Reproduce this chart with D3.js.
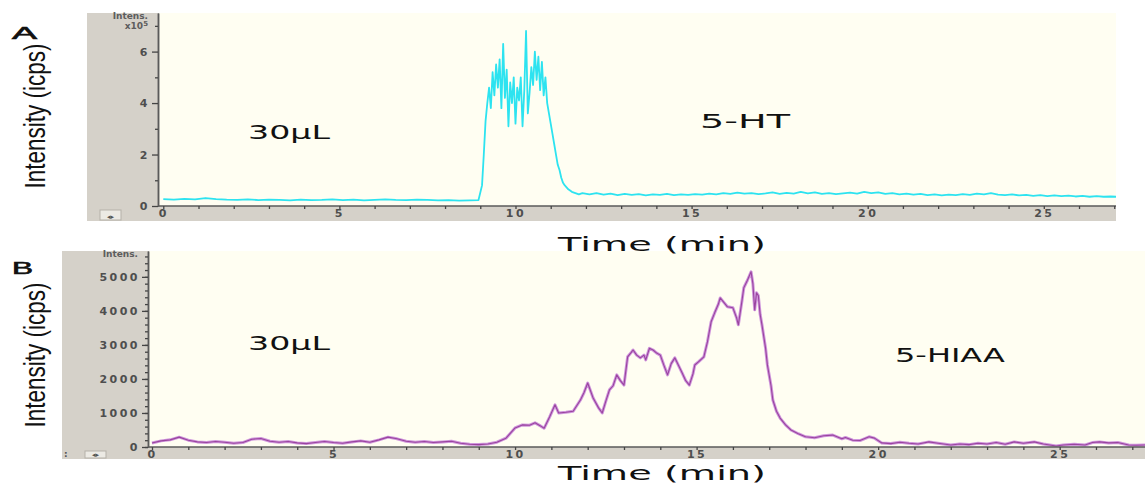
<!DOCTYPE html>
<html>
<head>
<meta charset="utf-8">
<script src="https://cdnjs.cloudflare.com/ajax/libs/d3/7.8.5/d3.min.js"></script>
<style>
body { margin: 0; background: #fff; }
svg { display: block; }
</style>
</head>
<body>
<div id="chart"></div>
<script>
// panel A: 5-HT, intensity in x10^5 icps
var htTime = [
	0, 0.3, 0.6, 0.9, 1.2, 1.5, 1.8, 2.1, 2.4, 2.7,
	3.0, 3.3, 3.6, 3.9, 4.2, 4.5, 4.8, 5.1, 5.4, 5.7,
	6.0, 6.3, 6.6, 6.9, 7.2, 7.5, 7.8, 8.1, 8.4, 8.7, 8.95,
	9.05, 9.1, 9.15, 9.2, 9.25, 9.3, 9.35, 9.4, 9.45, 9.5,
	9.55, 9.6, 9.65, 9.7, 9.75, 9.8, 9.85, 9.9, 9.95, 10.0,
	10.05, 10.1, 10.15, 10.2, 10.25, 10.3, 10.35, 10.4, 10.45, 10.5,
	10.55, 10.6, 10.65, 10.7, 10.75, 10.8, 10.85, 10.9, 10.95, 11.0,
	11.05, 11.1, 11.15, 11.2, 11.25, 11.3, 11.35, 11.4, 11.5, 11.6, 11.7, 11.8,
	11.9, 12.1, 12.3, 12.5, 12.7, 12.9, 13.1, 13.3, 13.5, 13.7,
	13.9, 14.1, 14.3, 14.5, 14.7, 14.9, 15.1, 15.3, 15.5, 15.7,
	15.9, 16.1, 16.3, 16.5, 16.7, 16.9, 17.1, 17.3, 17.5, 17.7,
	17.9, 18.1, 18.3, 18.5, 18.7, 18.9, 19.1, 19.3, 19.5, 19.7,
	19.9, 20.1, 20.3, 20.5, 20.7, 20.9, 21.1, 21.3, 21.5, 21.7,
	21.9, 22.1, 22.3, 22.5, 22.7, 22.9, 23.1, 23.3, 23.5, 23.7,
	23.9, 24.1, 24.3, 24.5, 24.7, 24.9, 25.1, 25.3, 25.5, 25.7,
	25.9, 26.1, 26.3, 26.5, 26.7, 26.9, 27.05
];
var htIntensity = [
	0.27, 0.25, 0.28, 0.26, 0.31, 0.27, 0.25, 0.24, 0.26, 0.23,
	0.25, 0.24, 0.22, 0.25, 0.23, 0.24, 0.26, 0.23, 0.25, 0.22,
	0.24, 0.26, 0.24, 0.23, 0.25, 0.24, 0.22, 0.23, 0.21, 0.22, 0.23,
	0.8, 2.0, 3.3, 4.0, 4.6, 3.8, 5.2, 4.3, 5.5, 4.6,
	5.7, 3.8, 6.3, 4.2, 5.3, 3.1, 4.8, 4.0, 5.0, 3.2,
	4.6, 4.1, 5.0, 3.1, 4.5, 6.8, 3.6, 4.4, 5.4, 4.7,
	6.0, 4.9, 5.8, 4.5, 5.6, 4.3, 5.0, 4.0, 3.6, 3.2,
	2.8, 2.4, 2.0, 1.6, 1.4, 1.1, 0.9, 0.8, 0.65, 0.55, 0.5, 0.45,
	0.5, 0.45, 0.5, 0.44, 0.48, 0.42, 0.47, 0.43, 0.46, 0.41,
	0.45, 0.43, 0.47, 0.42, 0.45, 0.43, 0.46, 0.44, 0.48, 0.45,
	0.5, 0.47, 0.52, 0.48, 0.5, 0.46, 0.49, 0.53, 0.47, 0.51,
	0.48, 0.55, 0.49, 0.53, 0.47, 0.5, 0.46, 0.49, 0.52, 0.48,
	0.55, 0.5, 0.53, 0.47, 0.5, 0.45, 0.48, 0.44, 0.47, 0.42,
	0.45, 0.41, 0.44, 0.42, 0.46, 0.43, 0.48, 0.45, 0.5, 0.44,
	0.42, 0.45, 0.41, 0.43, 0.39, 0.42, 0.38, 0.41, 0.38, 0.4,
	0.37, 0.39, 0.36, 0.38, 0.36, 0.37, 0.36
];

// panel B: 5-HIAA, intensity in icps
var hiaaTime = [
	0, 0.25, 0.5, 0.75, 1.0, 1.25, 1.5, 1.75, 2.0, 2.25,
	2.5, 2.75, 3.0, 3.25, 3.5, 3.75, 4.0, 4.25, 4.5, 4.75,
	5.0, 5.25, 5.5, 5.75, 6.0, 6.25, 6.5, 6.75, 7.0, 7.25,
	7.5, 7.75, 8.0, 8.25, 8.5, 8.75, 9.0, 9.25, 9.5, 9.75,
	10.0, 10.2, 10.4, 10.55, 10.7, 10.8, 10.95, 11.1, 11.2, 11.4,
	11.6, 11.8, 11.9, 12.0, 12.15, 12.3, 12.4, 12.5, 12.6, 12.7,
	12.8, 12.9, 13.0, 13.1, 13.2, 13.25, 13.35, 13.45, 13.55, 13.6,
	13.7, 13.8, 13.9, 14.0, 14.1, 14.2, 14.3, 14.4, 14.5, 14.6,
	14.7, 14.8, 14.9, 14.95, 15.05, 15.2, 15.3, 15.4, 15.5, 15.6,
	15.65, 15.75, 15.85, 16.0, 16.1, 16.15, 16.25, 16.3, 16.4, 16.5,
	16.55, 16.6, 16.65, 16.7, 16.75, 16.8, 16.9, 16.95, 17.05, 17.1,
	17.2, 17.3, 17.45, 17.6, 17.8, 18.0, 18.25, 18.5, 18.75, 19.0,
	19.1, 19.3, 19.5, 19.75, 19.9, 20.1, 20.35, 20.6, 20.85, 21.1,
	21.4, 21.65, 22.0, 22.25, 22.5, 22.75, 23.0, 23.25, 23.5, 23.75,
	24.0, 24.3, 24.55, 24.9, 25.1, 25.4, 25.7, 25.9, 26.1, 26.35,
	26.6, 26.9, 27.1, 27.35
];
var hiaaIntensity = [
	120, 180, 210, 290, 200, 150, 130, 160, 140, 110,
	130, 230, 250, 170, 140, 160, 120, 100, 130, 160,
	130, 110, 150, 180, 140, 210, 290, 240, 170, 140,
	160, 130, 150, 170, 110, 80, 70, 90, 140, 260,
	560, 650, 640, 710, 620, 550, 880, 1240, 1000, 1020,
	1050, 1380, 1600, 1880, 1440, 1150, 1000, 1350, 1680, 1800,
	2120, 1950, 1820, 2650, 2780, 2850, 2700, 2620, 2700, 2560,
	2900, 2850, 2760, 2700, 2400, 2120, 2450, 2620, 2400, 2180,
	1950, 1820, 2150, 2410, 2500, 2650, 3100, 3680, 3950, 4200,
	4380, 4250, 4120, 4090, 3800, 3590, 4300, 4680, 4900, 5150,
	4800, 4030, 4530, 4450, 3900, 3590, 2900, 2410, 1800, 1380,
	1050, 850, 650, 500, 390, 300, 270, 330, 350, 240,
	280, 200, 190, 300, 260, 120, 100, 140, 110, 90,
	150, 110, 60, 90, 70, 110, 90, 130, 80, 150,
	110, 150, 90, 30, 60, 80, 60, 130, 150, 120,
	130, 60, 50, 60
];

var timeTickLabels = [0, 5, 10, 15, 20, 25];
var htYTicks = [0, 2, 4, 6];
var htYMinorTicks = [1, 3, 5, 7];
var hiaaYTicks = [0, 1000, 2000, 3000, 4000, 5000];

var width = 1145;
var height = 491;

var svg = d3.select('#chart')
	.append('svg')
	.attr('width', width)
	.attr('height', height);

var stretchText = function(sel, len) {
	return sel.attr('textLength', len).attr('lengthAdjust', 'spacingAndGlyphs');
};

var drawPanel = function(p) {
	var g = svg.append('g');
	var x = d3.scaleLinear().domain(p.xDomain).range([p.axisX, p.right]);
	var y = d3.scaleLinear().domain(p.yDomain).range([p.axisY, p.top]);

	// grey software frame and cream plot area
	g.append('rect')
		.attr('x', p.left)
		.attr('y', p.top)
		.attr('width', p.right - p.left)
		.attr('height', p.bottom - p.top)
		.attr('fill', '#d5d1c9');
	g.append('rect')
		.attr('x', p.axisX)
		.attr('y', p.top)
		.attr('width', p.right - p.axisX)
		.attr('height', p.axisY - p.top)
		.attr('fill', '#fffef2');

	var clipId = 'clip' + p.name;
	g.append('clipPath').attr('id', clipId)
		.append('rect')
		.attr('x', p.axisX)
		.attr('y', p.top)
		.attr('width', p.right - p.axisX)
		.attr('height', p.axisY - p.top);

	var pts = p.times.map(function(t, i) {
		return [t, p.values[i]];
	});
	var line = d3.line()
		.x(function(d) { return x(d[0]); })
		.y(function(d) { return y(d[1]); });

	p.strokes.forEach(function(s) {
		g.append('path')
			.datum(pts)
			.attr('clip-path', 'url(#' + clipId + ')')
			.attr('d', line)
			.attr('fill', 'none')
			.attr('stroke', s[0])
			.attr('stroke-width', s[1])
			.attr('stroke-linejoin', 'round');
	});

	// x axis: a dot every minute, a label every 5
	var minutes = d3.range(0, Math.floor(p.xDomain[1]) + 1);
	var xAxis = g.append('g')
		.attr('transform', 'translate(0,' + p.axisY + ')')
		.call(d3.axisBottom(x)
			.tickValues(minutes)
			.tickSize(3)
			.tickSizeOuter(0)
			.tickPadding(0)
			.tickFormat(function(d) {
				return timeTickLabels.indexOf(d) >= 0 ? d : '';
			}));

	// y axis, major and minor ticks
	var yMinor = g.append('g')
		.attr('transform', 'translate(' + p.axisX + ',0)')
		.call(d3.axisLeft(y)
			.tickValues(p.yMinor)
			.tickSize(3)
			.tickSizeOuter(0)
			.tickFormat(''));
	var yAxis = g.append('g')
		.attr('transform', 'translate(' + p.axisX + ',0)')
		.call(d3.axisLeft(y)
			.tickValues(p.yMajor)
			.tickSize(6)
			.tickSizeOuter(0)
			.tickPadding(p.yPad)
			.tickFormat(d3.format('d')));

	[xAxis, yAxis, yMinor].forEach(function(a) {
		a.select('.domain')
			.attr('stroke', '#5a5a5a')
			.attr('stroke-width', 1.5);
		a.selectAll('.tick line')
			.attr('stroke', '#444')
			.attr('stroke-width', 1.3);
		a.selectAll('text')
			.attr('fill', '#4e4e4e')
			.style('font-family', 'DejaVu Sans, sans-serif')
			.style('font-weight', 'bold')
			.style('font-size', '11px')
			.style('letter-spacing', '2.5px');
	});
	xAxis.selectAll('.domain').attr('d', 'M' + p.axisX + ',0H' + p.right);

	// little scroll button at the bottom left
	g.append('rect')
		.attr('x', p.btnX)
		.attr('y', p.axisY + 4)
		.attr('width', 21)
		.attr('height', p.bottom - p.axisY - 5)
		.attr('fill', '#eceae4')
		.attr('stroke', '#b5b1a9');
	g.append('text')
		.attr('x', p.btnX + 10.5)
		.attr('y', p.bottom - 2)
		.attr('text-anchor', 'middle')
		.style('font-family', 'DejaVu Sans, sans-serif')
		.style('font-size', '7px')
		.attr('fill', '#555')
		.text('\u25C2\u25B8');

	// "Intens." header in the grey strip
	g.append('text')
		.attr('x', p.axisX - 10)
		.attr('y', p.top + 6)
		.attr('text-anchor', 'end')
		.attr('fill', '#5d5d5d')
		.style('font-family', 'DejaVu Sans, sans-serif')
		.style('font-weight', 'bold')
		.style('font-size', '9px')
		.text('Intens.');

	return g;
};

// figure labels go on top of both frames
var drawLabels = function(p) {
	svg.append('text')
		.attr('x', 12)
		.attr('y', p.letterY)
		.style('font-family', 'Liberation Sans, Arial, sans-serif')
		.style('font-size', '16px')
		.attr('fill', '#111')
		.attr('stroke', '#111')
		.attr('stroke-width', 0.6)
		.call(stretchText, p.letterW)
		.text(p.name);

	svg.append('text')
		.attr('transform', 'translate(45,' + p.yLabelY + ') rotate(-90)')
		.attr('text-anchor', 'middle')
		.style('font-family', 'Liberation Sans Narrow, Liberation Sans, sans-serif')
		.style('font-size', '29px')
		.attr('fill', '#111')
		.call(stretchText, 145)
		.text('Intensity (icps)');

	svg.append('text')
		.attr('x', 558)
		.attr('y', p.timeY)
		.style('font-family', 'DejaVu Sans, sans-serif')
		.style('font-size', '20px')
		.attr('fill', '#111')
		.call(stretchText, 208)
		.text('Time (min)');

	p.notes.forEach(function(n) {
		svg.append('text')
			.attr('x', n[1])
			.attr('y', n[2])
			.style('font-family', 'DejaVu Sans, sans-serif')
			.style('font-size', '20px')
			.attr('fill', '#111')
			.call(stretchText, n[3])
			.text(n[0]);
	});
};

var optsA = {
	name: 'A',
	left: 87, axisX: 158, right: 1116,
	top: 13, axisY: 206, bottom: 221,
	xDomain: [-0.15, 27.05],
	yDomain: [0, 7.5],
	yMajor: htYTicks,
	yMinor: htYMinorTicks,
	yPad: 2,
	times: htTime,
	values: htIntensity,
	strokes: [['#2de3f0', 1.8]],
	btnX: 100,
	letterY: 39,
	letterW: 25,
	yLabelY: 116,
	timeY: 251,
	notes: [['30\u03BCL', 248, 139, 82], ['5-HT', 700, 128, 90]]
};

var optsB = {
	name: 'B',
	left: 62, axisX: 148, right: 1145,
	top: 251, axisY: 447, bottom: 459,
	xDomain: [-0.11, 27.35],
	yDomain: [0, 5760],
	yMajor: hiaaYTicks,
	yMinor: d3.range(0, 5800, 200),
	yPad: 2,
	times: hiaaTime,
	values: hiaaIntensity,
	strokes: [['#cf96dc', 3], ['#9a449f', 1.1]],
	btnX: 85,
	letterY: 274,
	letterW: 21,
	yLabelY: 355,
	timeY: 480,
	notes: [['30\u03BCL', 248, 350, 82], ['5-HIAA', 895, 362, 110]]
};

var panelA = drawPanel(optsA);

// x10^5 exponent under "Intens."
var expo = panelA.append('text')
	.attr('x', 148)
	.attr('y', 29)
	.attr('text-anchor', 'end')
	.attr('fill', '#5d5d5d')
	.style('font-family', 'DejaVu Sans, sans-serif')
	.style('font-weight', 'bold')
	.style('font-size', '9px');
expo.append('tspan').text('x10');
expo.append('tspan').attr('dy', -3).style('font-size', '7px').text('5');

var panelB = drawPanel(optsB);

panelB.append('text')
	.attr('x', 64)
	.attr('y', 457)
	.attr('fill', '#555')
	.style('font-family', 'DejaVu Sans, sans-serif')
	.style('font-weight', 'bold')
	.style('font-size', '9px')
	.text(':');

drawLabels(optsA);
drawLabels(optsB);
</script>
</body>
</html>
